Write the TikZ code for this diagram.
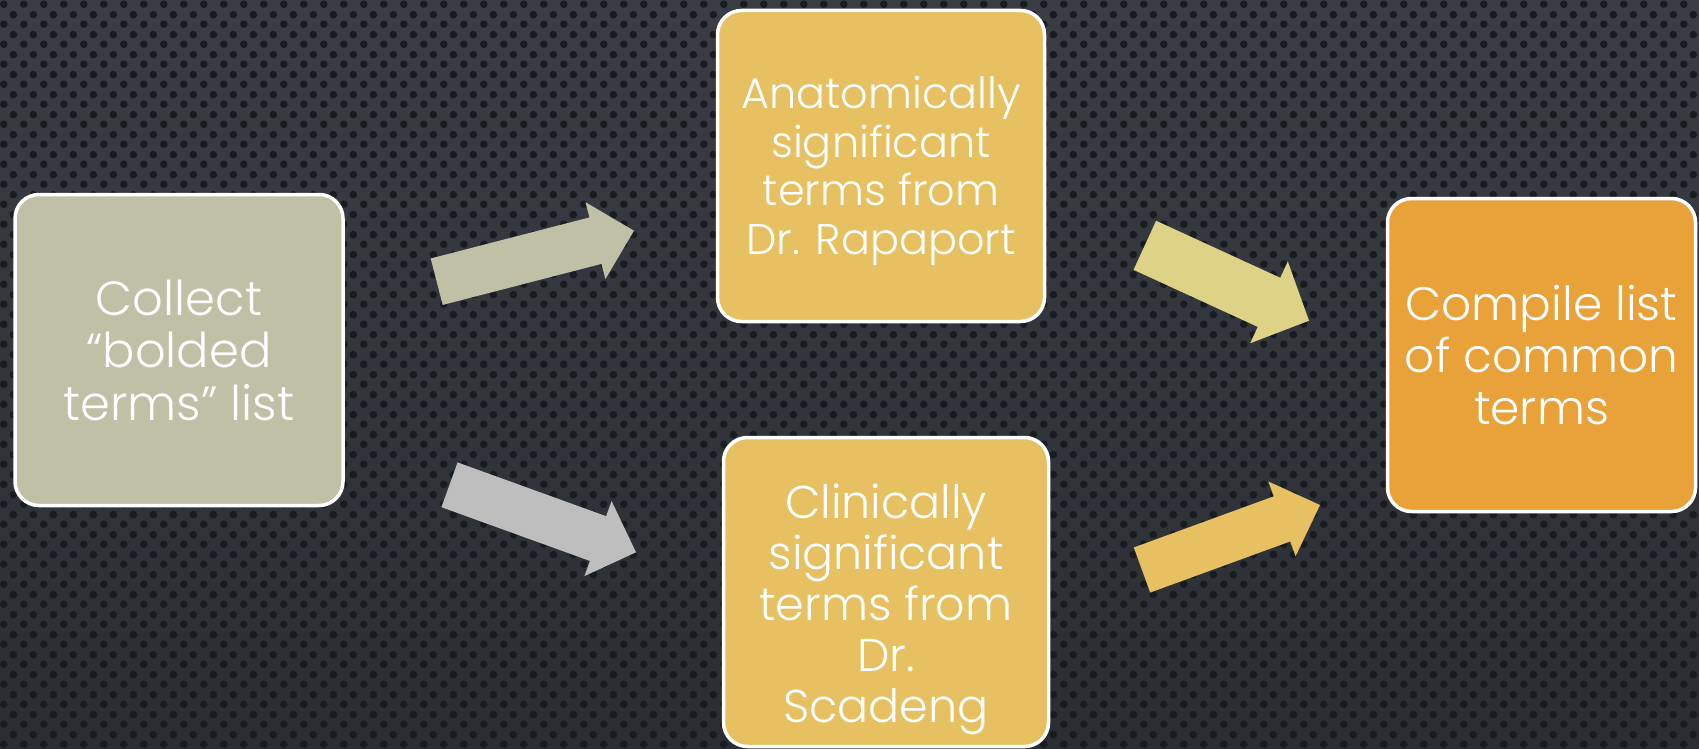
\documentclass[tikz,border=0pt]{standalone}
\usepackage{fontspec}
\IfFontExistsTF{Poppins Light}{\setmainfont{Poppins Light}}{\setmainfont{Poppins}}
\usetikzlibrary{calc,patterns.meta}

\definecolor{bgTop}{HTML}{3A3D43}
\definecolor{bgBot}{HTML}{2A2D32}
\definecolor{bgDot}{HTML}{181B1F}
\definecolor{boxOlive}{HTML}{BFC0A5}
\definecolor{boxGold}{HTML}{E7C061}
\definecolor{boxOrange}{HTML}{E9A13A}
\definecolor{arrGray}{HTML}{BEBEBE}
\definecolor{arrKhaki}{HTML}{DDD286}

\tikzdeclarepattern{
  name=dotgrid,
  type=uncolored,
  bounding box={(0pt,0pt) and (20pt,20pt)},
  tile size={(20pt,20pt)},
  code={
    \fill (5pt,5pt) circle (4pt);
    \fill (15pt,15pt) circle (4pt);
  }
}

\newcommand{\blockarrow}[6]{% #1 colour, #2 tail, #3 tip, #4 shaft half width, #5 head half width, #6 head length
  \coordinate (bbase) at ($(#3)!#6!(#2)$);
  \fill[#1] ($(#2)!#4!90:(#3)$) -- ($(bbase)!#4!90:(#3)$) -- ($(bbase)!#5!90:(#3)$)
    -- (#3) -- ($(bbase)!#5!-90:(#3)$) -- ($(bbase)!#4!-90:(#3)$) -- ($(#2)!#4!-90:(#3)$) -- cycle;
}

\begin{document}
\begin{tikzpicture}[x=1pt,y=-1pt,
  stepbox/.style={draw=white, line width=3.5pt, rounded corners=24pt, inner sep=0pt},
  boxtext/.style={text=white, align=center, inner sep=0pt},
]
\useasboundingbox (0,0) rectangle (1699,749);
% background
\shade[top color=bgTop, bottom color=bgBot] (0,0) rectangle (1699,749);
\fill[pattern=dotgrid, pattern color=bgDot] (0,0) rectangle (1699,749);

% boxes
\node[stepbox, fill=boxOlive, minimum width=328pt, minimum height=311pt] (collect) at (179,350) {};
\node[stepbox, fill=boxGold, minimum width=327pt, minimum height=311pt] (anat) at (881,166) {};
\node[stepbox, fill=boxGold, minimum width=325pt, minimum height=309pt] (clin) at (886,592) {};
\node[stepbox, fill=boxOrange, minimum width=308pt, minimum height=313pt] (compile) at (1541.5,355) {};

% texts
\node[boxtext, font=\fontsize{48}{52.5}\selectfont] (collectT) at ($(collect.center)+(0,0)$)
  {Collect\\“bolded\\terms” list};
\node[boxtext, font=\fontsize{43}{48.5}\selectfont] (anatT) at ($(anat.center)+(0,5)$)
  {Anatomically\\significant\\terms from\\Dr. Rapaport};
\node[boxtext, font=\fontsize{46}{51}\selectfont] (clinT) at ($(clin.center)+(0,17)$)
  {Clinically\\significant\\terms from\\Dr.\\Scadeng};
\node[boxtext, font=\fontsize{47}{52}\selectfont] (compileT) at ($(compile.center)+(0,0)$)
  {Compile list\\of common\\terms};

% arrows
\coordinate (a1s) at (436.7,281.7); \coordinate (a1e) at (634,230.7);
\coordinate (a2s) at (449.5,484.8); \coordinate (a2e) at (636,552.3);
\coordinate (a3s) at (1144.8,245.3); \coordinate (a3e) at (1309,320.7);
\coordinate (a4s) at (1142,570); \coordinate (a4e) at (1320,505);
\blockarrow{boxOlive}{a1s}{a1e}{24pt}{39.7pt}{39.8pt}
\blockarrow{arrGray}{a2s}{a2e}{23.8pt}{39.9pt}{40.4pt}
\blockarrow{arrKhaki}{a3s}{a3e}{27pt}{45pt}{44pt}
\blockarrow{boxGold}{a4s}{a4e}{24pt}{39.8pt}{40.5pt}
\end{tikzpicture}
\end{document}
